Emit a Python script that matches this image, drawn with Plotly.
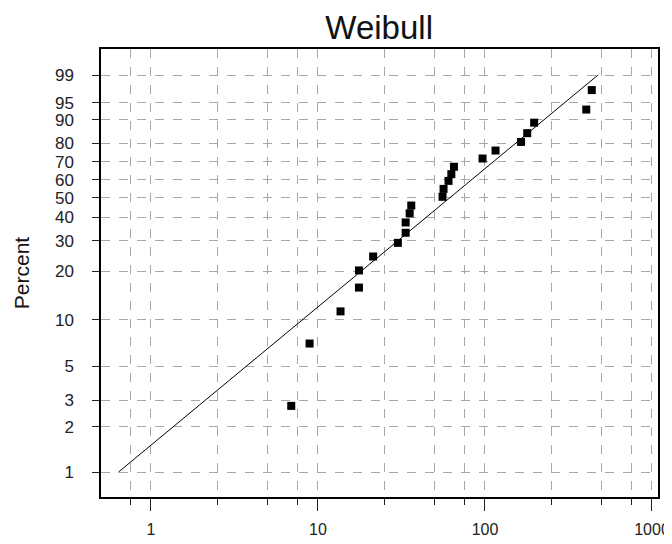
import numpy as np
import plotly.graph_objects as go

# failure times and plotted percents
tempos = [6.92, 8.91, 13.65, 17.6, 17.6, 21.4, 30.1, 33.5, 33.5, 35.4, 36.2,
          55.7, 56.5, 60.5, 62.9, 65.2, 96.7, 115.7, 164.5, 179, 197, 404, 436]
percentuais = [2.75, 7.04, 11.3, 15.9, 20.2, 24.4, 29.2, 33.2, 37.7, 42.0, 45.9,
               50.5, 54.8, 59.3, 63.1, 67.3, 71.9, 76.2, 80.6, 84.7, 89.0, 93.3, 97.4]

# fitted Weibull parameters (shape, scale)
BETA = 0.927
ETA = 91.5

y_ticks = [1, 2, 3, 5, 10, 20, 30, 40, 50, 60, 70, 80, 90, 95, 99]
x_major = [1, 10, 100, 1000]
x_minor = [0.75, 2.5, 5, 7.5, 25, 50, 75, 250, 500, 750]


def weibull_y(p):
    p = np.asarray(p, dtype=float) / 100.0
    return np.log(-np.log(1 - p))


linha_p = np.array([1, 99])
linha_t = ETA * (-np.log(1 - linha_p / 100.0)) ** (1 / BETA)

fig = go.Figure()
fig.add_trace(go.Scatter(
    x=linha_t, y=weibull_y(linha_p), mode='lines',
    line=dict(color='black', width=1), hoverinfo='skip'
))
fig.add_trace(go.Scatter(
    x=tempos, y=weibull_y(percentuais), mode='markers',
    marker=dict(symbol='square', size=8, color='black'),
    customdata=percentuais,
    hovertemplate='%{x}<br>%{customdata}%<extra></extra>'
))

grade = dict(showgrid=True, gridcolor='#a8a8a8', griddash='dash', gridwidth=1)

# page body has an 8px margin, so the figure is sized to fill the rest of the window
fig.update_layout(
    width=664, height=536,
    margin=dict(l=93, r=14, t=41, b=47),
    paper_bgcolor='white', plot_bgcolor='white',
    showlegend=False,
    font=dict(family='Liberation Sans, Arial, sans-serif', size=17, color='#222'),
    title=dict(text='Weibull', x=0.559, xanchor='center', y=0.964, yanchor='middle',
               font=dict(size=33, color='#111')),
    xaxis=dict(
        type='log', range=[-0.299, 3.036], automargin=False,
        tickmode='array', tickvals=x_major, ticktext=[str(v) for v in x_major],
        tickfont=dict(size=16),
        ticks='outside', ticklen=12, tickwidth=1, tickcolor='#222',
        showline=True, linecolor='black', linewidth=1.5, mirror=True,
        zeroline=False, ticklabelstandoff=5,
        minor=dict(tickmode='array', tickvals=x_minor, ticks='outside', ticklen=6,
                   tickcolor='#222', **grade),
        **grade
    ),
    yaxis=dict(
        range=[-4.986, 1.929], automargin=False,
        tickmode='array', tickvals=weibull_y(y_ticks), ticktext=[str(v) for v in y_ticks],
        ticks='outside', ticklen=7, tickwidth=1, tickcolor='#222',
        showline=True, linecolor='black', linewidth=1.5, mirror=True,
        zeroline=False, ticklabelstandoff=15,
        title=dict(text='Percent', font=dict(size=21, color='#111'), standoff=20),
        **grade
    ),
)

fig.write_html("out.html")
